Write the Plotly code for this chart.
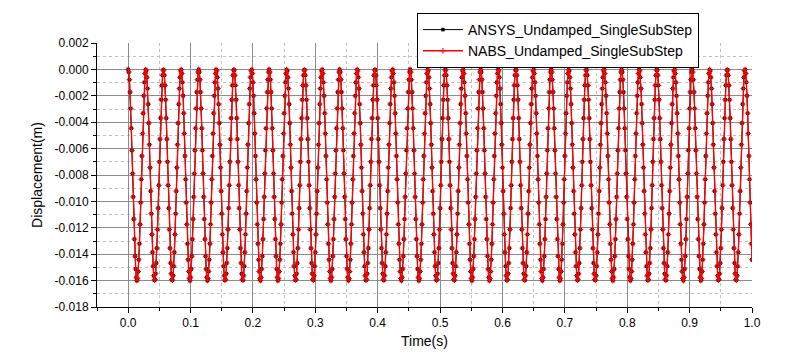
import plotly.graph_objects as go

# ---- data ----
time_start_s = 0.0
time_step_s = 0.001

# ANSYS displacement samples (mm), one per time step
ansys_disp_mm = [
    0, -0.2, -0.78, -1.72, -2.96, -4.46, -6.13, -7.89, -9.66, -11.34, -12.86, -14.15, -15.12, -15.75, -16.0, -15.85, -15.31, -14.42, -13.21, -11.74, -10.09, -8.33, -6.56, -4.86, -3.32, -2.0, -0.98, -0.31, -0.01,
    -0.11, -0.6, -1.45, -2.63, -4.07, -5.7, -7.44, -9.22, -10.93, -12.5, -13.85, -14.91, -15.63, -15.97, -15.92, -15.48, -14.67, -13.54, -12.13, -10.51, -8.78, -7.0, -5.28, -3.69, -2.3, -1.21, -0.44, -0.05,
    -0.05, -0.44, -1.21, -2.3, -3.69, -5.28, -7.0, -8.78, -10.51, -12.13, -13.54, -14.67, -15.48, -15.92, -15.97, -15.63, -14.91, -13.85, -12.5, -10.93, -9.22, -7.44, -5.7, -4.07, -2.63, -1.45, -0.6, -0.11,
    -0.01, -0.31, -0.98, -2.0, -3.32, -4.86, -6.56, -8.33, -10.09, -11.74, -13.21, -14.42, -15.31, -15.85, -16.0, -15.75, -15.12, -14.15, -12.86, -11.34, -9.66, -7.89, -6.13, -4.46, -2.96, -1.72, -0.78, -0.2,
    0, -0.2, -0.78, -1.72, -2.96, -4.46, -6.13, -7.89, -9.66, -11.34, -12.86, -14.15, -15.12, -15.75, -16.0, -15.85, -15.31, -14.42, -13.21, -11.74, -10.09, -8.33, -6.56, -4.86, -3.32, -2.0, -0.98, -0.31, -0.01,
    -0.11, -0.6, -1.45, -2.63, -4.07, -5.7, -7.44, -9.22, -10.93, -12.5, -13.85, -14.91, -15.63, -15.97, -15.92, -15.48, -14.67, -13.54, -12.13, -10.51, -8.78, -7.0, -5.28, -3.69, -2.3, -1.21, -0.44, -0.05,
    -0.05, -0.44, -1.21, -2.3, -3.69, -5.28, -7.0, -8.78, -10.51, -12.13, -13.54, -14.67, -15.48, -15.92, -15.97, -15.63, -14.91, -13.85, -12.5, -10.93, -9.22, -7.44, -5.7, -4.07, -2.63, -1.45, -0.6, -0.11,
    -0.01, -0.31, -0.98, -2.0, -3.32, -4.86, -6.56, -8.33, -10.09, -11.74, -13.21, -14.42, -15.31, -15.85, -16.0, -15.75, -15.12, -14.15, -12.86, -11.34, -9.66, -7.89, -6.13, -4.46, -2.96, -1.72, -0.78, -0.2,
    0, -0.2, -0.78, -1.72, -2.96, -4.46, -6.13, -7.89, -9.66, -11.34, -12.86, -14.15, -15.12, -15.75, -16.0, -15.85, -15.31, -14.42, -13.21, -11.74, -10.09, -8.33, -6.56, -4.86, -3.32, -2.0, -0.98, -0.31, -0.01,
    -0.11, -0.6, -1.45, -2.63, -4.07, -5.7, -7.44, -9.22, -10.93, -12.5, -13.85, -14.91, -15.63, -15.97, -15.92, -15.48, -14.67, -13.54, -12.13, -10.51, -8.78, -7.0, -5.28, -3.69, -2.3, -1.21, -0.44, -0.05,
    -0.05, -0.44, -1.21, -2.3, -3.69, -5.28, -7.0, -8.78, -10.51, -12.13, -13.54, -14.67, -15.48, -15.92, -15.97, -15.63, -14.91, -13.85, -12.5, -10.93, -9.22, -7.44, -5.7, -4.07, -2.63, -1.45, -0.6, -0.11,
    -0.01, -0.31, -0.98, -2.0, -3.32, -4.86, -6.56, -8.33, -10.09, -11.74, -13.21, -14.42, -15.31, -15.85, -16.0, -15.75, -15.12, -14.15, -12.86, -11.34, -9.66, -7.89, -6.13, -4.46, -2.96, -1.72, -0.78, -0.2,
    0, -0.2, -0.78, -1.72, -2.96, -4.46, -6.13, -7.89, -9.66, -11.34, -12.86, -14.15, -15.12, -15.75, -16.0, -15.85, -15.31, -14.42, -13.21, -11.74, -10.09, -8.33, -6.56, -4.86, -3.32, -2.0, -0.98, -0.31, -0.01,
    -0.11, -0.6, -1.45, -2.63, -4.07, -5.7, -7.44, -9.22, -10.93, -12.5, -13.85, -14.91, -15.63, -15.97, -15.92, -15.48, -14.67, -13.54, -12.13, -10.51, -8.78, -7.0, -5.28, -3.69, -2.3, -1.21, -0.44, -0.05,
    -0.05, -0.44, -1.21, -2.3, -3.69, -5.28, -7.0, -8.78, -10.51, -12.13, -13.54, -14.67, -15.48, -15.92, -15.97, -15.63, -14.91, -13.85, -12.5, -10.93, -9.22, -7.44, -5.7, -4.07, -2.63, -1.45, -0.6, -0.11,
    -0.01, -0.31, -0.98, -2.0, -3.32, -4.86, -6.56, -8.33, -10.09, -11.74, -13.21, -14.42, -15.31, -15.85, -16.0, -15.75, -15.12, -14.15, -12.86, -11.34, -9.66, -7.89, -6.13, -4.46, -2.96, -1.72, -0.78, -0.2,
    0, -0.2, -0.78, -1.72, -2.96, -4.46, -6.13, -7.89, -9.66, -11.34, -12.86, -14.15, -15.12, -15.75, -16.0, -15.85, -15.31, -14.42, -13.21, -11.74, -10.09, -8.33, -6.56, -4.86, -3.32, -2.0, -0.98, -0.31, -0.01,
    -0.11, -0.6, -1.45, -2.63, -4.07, -5.7, -7.44, -9.22, -10.93, -12.5, -13.85, -14.91, -15.63, -15.97, -15.92, -15.48, -14.67, -13.54, -12.13, -10.51, -8.78, -7.0, -5.28, -3.69, -2.3, -1.21, -0.44, -0.05,
    -0.05, -0.44, -1.21, -2.3, -3.69, -5.28, -7.0, -8.78, -10.51, -12.13, -13.54, -14.67, -15.48, -15.92, -15.97, -15.63, -14.91, -13.85, -12.5, -10.93, -9.22, -7.44, -5.7, -4.07, -2.63, -1.45, -0.6, -0.11,
    -0.01, -0.31, -0.98, -2.0, -3.32, -4.86, -6.56, -8.33, -10.09, -11.74, -13.21, -14.42, -15.31, -15.85, -16.0, -15.75, -15.12, -14.15, -12.86, -11.34, -9.66, -7.89, -6.13, -4.46, -2.96, -1.72, -0.78, -0.2,
    0, -0.2, -0.78, -1.72, -2.96, -4.46, -6.13, -7.89, -9.66, -11.34, -12.86, -14.15, -15.12, -15.75, -16.0, -15.85, -15.31, -14.42, -13.21, -11.74, -10.09, -8.33, -6.56, -4.86, -3.32, -2.0, -0.98, -0.31, -0.01,
    -0.11, -0.6, -1.45, -2.63, -4.07, -5.7, -7.44, -9.22, -10.93, -12.5, -13.85, -14.91, -15.63, -15.97, -15.92, -15.48, -14.67, -13.54, -12.13, -10.51, -8.78, -7.0, -5.28, -3.69, -2.3, -1.21, -0.44, -0.05,
    -0.05, -0.44, -1.21, -2.3, -3.69, -5.28, -7.0, -8.78, -10.51, -12.13, -13.54, -14.67, -15.48, -15.92, -15.97, -15.63, -14.91, -13.85, -12.5, -10.93, -9.22, -7.44, -5.7, -4.07, -2.63, -1.45, -0.6, -0.11,
    -0.01, -0.31, -0.98, -2.0, -3.32, -4.86, -6.56, -8.33, -10.09, -11.74, -13.21, -14.42, -15.31, -15.85, -16.0, -15.75, -15.12, -14.15, -12.86, -11.34, -9.66, -7.89, -6.13, -4.46, -2.96, -1.72, -0.78, -0.2,
    0, -0.2, -0.78, -1.72, -2.96, -4.46, -6.13, -7.89, -9.66, -11.34, -12.86, -14.15, -15.12, -15.75, -16.0, -15.85, -15.31, -14.42, -13.21, -11.74, -10.09, -8.33, -6.56, -4.86, -3.32, -2.0, -0.98, -0.31, -0.01,
    -0.11, -0.6, -1.45, -2.63, -4.07, -5.7, -7.44, -9.22, -10.93, -12.5, -13.85, -14.91, -15.63, -15.97, -15.92, -15.48, -14.67, -13.54, -12.13, -10.51, -8.78, -7.0, -5.28, -3.69, -2.3, -1.21, -0.44, -0.05,
    -0.05, -0.44, -1.21, -2.3, -3.69, -5.28, -7.0, -8.78, -10.51, -12.13, -13.54, -14.67, -15.48, -15.92, -15.97, -15.63, -14.91, -13.85, -12.5, -10.93, -9.22, -7.44, -5.7, -4.07, -2.63, -1.45, -0.6, -0.11,
    -0.01, -0.31, -0.98, -2.0, -3.32, -4.86, -6.56, -8.33, -10.09, -11.74, -13.21, -14.42, -15.31, -15.85, -16.0, -15.75, -15.12, -14.15, -12.86, -11.34, -9.66, -7.89, -6.13, -4.46, -2.96, -1.72, -0.78, -0.2,
    0, -0.2, -0.78, -1.72, -2.96, -4.46, -6.13, -7.89, -9.66, -11.34, -12.86, -14.15, -15.12, -15.75, -16.0, -15.85, -15.31, -14.42, -13.21, -11.74, -10.09, -8.33, -6.56, -4.86, -3.32, -2.0, -0.98, -0.31, -0.01,
    -0.11, -0.6, -1.45, -2.63, -4.07, -5.7, -7.44, -9.22, -10.93, -12.5, -13.85, -14.91, -15.63, -15.97, -15.92, -15.48, -14.67, -13.54, -12.13, -10.51, -8.78, -7.0, -5.28, -3.69, -2.3, -1.21, -0.44, -0.05,
    -0.05, -0.44, -1.21, -2.3, -3.69, -5.28, -7.0, -8.78, -10.51, -12.13, -13.54, -14.67, -15.48, -15.92, -15.97, -15.63, -14.91, -13.85, -12.5, -10.93, -9.22, -7.44, -5.7, -4.07, -2.63, -1.45, -0.6, -0.11,
    -0.01, -0.31, -0.98, -2.0, -3.32, -4.86, -6.56, -8.33, -10.09, -11.74, -13.21, -14.42, -15.31, -15.85, -16.0, -15.75, -15.12, -14.15, -12.86, -11.34, -9.66, -7.89, -6.13, -4.46, -2.96, -1.72, -0.78, -0.2,
    0, -0.2, -0.78, -1.72, -2.96, -4.46, -6.13, -7.89, -9.66, -11.34, -12.86, -14.15, -15.12, -15.75, -16.0, -15.85, -15.31, -14.42, -13.21, -11.74, -10.09, -8.33, -6.56, -4.86, -3.32, -2.0, -0.98, -0.31, -0.01,
    -0.11, -0.6, -1.45, -2.63, -4.07, -5.7, -7.44, -9.22, -10.93, -12.5, -13.85, -14.91, -15.63, -15.97, -15.92, -15.48, -14.67, -13.54, -12.13, -10.51, -8.78, -7.0, -5.28, -3.69, -2.3, -1.21, -0.44, -0.05,
    -0.05, -0.44, -1.21, -2.3, -3.69, -5.28, -7.0, -8.78, -10.51, -12.13, -13.54, -14.67, -15.48, -15.92, -15.97, -15.63, -14.91, -13.85, -12.5, -10.93, -9.22, -7.44, -5.7, -4.07, -2.63, -1.45, -0.6, -0.11,
    -0.01, -0.31, -0.98, -2.0, -3.32, -4.86, -6.56, -8.33, -10.09, -11.74, -13.21, -14.42,
]

# NABS displacement samples (mm), one per time step
nabs_disp_mm = [
    0, -0.2, -0.78, -1.72, -2.96, -4.46, -6.13, -7.89, -9.66, -11.34, -12.86, -14.15, -15.12, -15.75, -16.0, -15.85, -15.31, -14.42, -13.21, -11.74, -10.09, -8.33, -6.56, -4.86, -3.32, -2.0, -0.98, -0.31, -0.01,
    -0.11, -0.6, -1.45, -2.63, -4.07, -5.7, -7.44, -9.22, -10.93, -12.5, -13.85, -14.91, -15.63, -15.97, -15.92, -15.48, -14.67, -13.54, -12.13, -10.51, -8.78, -7.0, -5.28, -3.69, -2.3, -1.21, -0.44, -0.05,
    -0.05, -0.44, -1.21, -2.3, -3.69, -5.28, -7.0, -8.78, -10.51, -12.13, -13.54, -14.67, -15.48, -15.92, -15.97, -15.63, -14.91, -13.85, -12.5, -10.93, -9.22, -7.44, -5.7, -4.07, -2.63, -1.45, -0.6, -0.11,
    -0.01, -0.31, -0.98, -2.0, -3.32, -4.86, -6.56, -8.33, -10.09, -11.74, -13.21, -14.42, -15.31, -15.85, -16.0, -15.75, -15.12, -14.15, -12.86, -11.34, -9.66, -7.89, -6.13, -4.46, -2.96, -1.72, -0.78, -0.2,
    0, -0.2, -0.78, -1.72, -2.96, -4.46, -6.13, -7.89, -9.66, -11.34, -12.86, -14.15, -15.12, -15.75, -16.0, -15.85, -15.31, -14.42, -13.21, -11.74, -10.09, -8.33, -6.56, -4.86, -3.32, -2.0, -0.98, -0.31, -0.01,
    -0.11, -0.6, -1.45, -2.63, -4.07, -5.7, -7.44, -9.22, -10.93, -12.5, -13.85, -14.91, -15.63, -15.97, -15.92, -15.48, -14.67, -13.54, -12.13, -10.51, -8.78, -7.0, -5.28, -3.69, -2.3, -1.21, -0.44, -0.05,
    -0.05, -0.44, -1.21, -2.3, -3.69, -5.28, -7.0, -8.78, -10.51, -12.13, -13.54, -14.67, -15.48, -15.92, -15.97, -15.63, -14.91, -13.85, -12.5, -10.93, -9.22, -7.44, -5.7, -4.07, -2.63, -1.45, -0.6, -0.11,
    -0.01, -0.31, -0.98, -2.0, -3.32, -4.86, -6.56, -8.33, -10.09, -11.74, -13.21, -14.42, -15.31, -15.85, -16.0, -15.75, -15.12, -14.15, -12.86, -11.34, -9.66, -7.89, -6.13, -4.46, -2.96, -1.72, -0.78, -0.2,
    0, -0.2, -0.78, -1.72, -2.96, -4.46, -6.13, -7.89, -9.66, -11.34, -12.86, -14.15, -15.12, -15.75, -16.0, -15.85, -15.31, -14.42, -13.21, -11.74, -10.09, -8.33, -6.56, -4.86, -3.32, -2.0, -0.98, -0.31, -0.01,
    -0.11, -0.6, -1.45, -2.63, -4.07, -5.7, -7.44, -9.22, -10.93, -12.5, -13.85, -14.91, -15.63, -15.97, -15.92, -15.48, -14.67, -13.54, -12.13, -10.51, -8.78, -7.0, -5.28, -3.69, -2.3, -1.21, -0.44, -0.05,
    -0.05, -0.44, -1.21, -2.3, -3.69, -5.28, -7.0, -8.78, -10.51, -12.13, -13.54, -14.67, -15.48, -15.92, -15.97, -15.63, -14.91, -13.85, -12.5, -10.93, -9.22, -7.44, -5.7, -4.07, -2.63, -1.45, -0.6, -0.11,
    -0.01, -0.31, -0.98, -2.0, -3.32, -4.86, -6.56, -8.33, -10.09, -11.74, -13.21, -14.42, -15.31, -15.85, -16.0, -15.75, -15.12, -14.15, -12.86, -11.34, -9.66, -7.89, -6.13, -4.46, -2.96, -1.72, -0.78, -0.2,
    0, -0.2, -0.78, -1.72, -2.96, -4.46, -6.13, -7.89, -9.66, -11.34, -12.86, -14.15, -15.12, -15.75, -16.0, -15.85, -15.31, -14.42, -13.21, -11.74, -10.09, -8.33, -6.56, -4.86, -3.32, -2.0, -0.98, -0.31, -0.01,
    -0.11, -0.6, -1.45, -2.63, -4.07, -5.7, -7.44, -9.22, -10.93, -12.5, -13.85, -14.91, -15.63, -15.97, -15.92, -15.48, -14.67, -13.54, -12.13, -10.51, -8.78, -7.0, -5.28, -3.69, -2.3, -1.21, -0.44, -0.05,
    -0.05, -0.44, -1.21, -2.3, -3.69, -5.28, -7.0, -8.78, -10.51, -12.13, -13.54, -14.67, -15.48, -15.92, -15.97, -15.63, -14.91, -13.85, -12.5, -10.93, -9.22, -7.44, -5.7, -4.07, -2.63, -1.45, -0.6, -0.11,
    -0.01, -0.31, -0.98, -2.0, -3.32, -4.86, -6.56, -8.33, -10.09, -11.74, -13.21, -14.42, -15.31, -15.85, -16.0, -15.75, -15.12, -14.15, -12.86, -11.34, -9.66, -7.89, -6.13, -4.46, -2.96, -1.72, -0.78, -0.2,
    0, -0.2, -0.78, -1.72, -2.96, -4.46, -6.13, -7.89, -9.66, -11.34, -12.86, -14.15, -15.12, -15.75, -16.0, -15.85, -15.31, -14.42, -13.21, -11.74, -10.09, -8.33, -6.56, -4.86, -3.32, -2.0, -0.98, -0.31, -0.01,
    -0.11, -0.6, -1.45, -2.63, -4.07, -5.7, -7.44, -9.22, -10.93, -12.5, -13.85, -14.91, -15.63, -15.97, -15.92, -15.48, -14.67, -13.54, -12.13, -10.51, -8.78, -7.0, -5.28, -3.69, -2.3, -1.21, -0.44, -0.05,
    -0.05, -0.44, -1.21, -2.3, -3.69, -5.28, -7.0, -8.78, -10.51, -12.13, -13.54, -14.67, -15.48, -15.92, -15.97, -15.63, -14.91, -13.85, -12.5, -10.93, -9.22, -7.44, -5.7, -4.07, -2.63, -1.45, -0.6, -0.11,
    -0.01, -0.31, -0.98, -2.0, -3.32, -4.86, -6.56, -8.33, -10.09, -11.74, -13.21, -14.42, -15.31, -15.85, -16.0, -15.75, -15.12, -14.15, -12.86, -11.34, -9.66, -7.89, -6.13, -4.46, -2.96, -1.72, -0.78, -0.2,
    0, -0.2, -0.78, -1.72, -2.96, -4.46, -6.13, -7.89, -9.66, -11.34, -12.86, -14.15, -15.12, -15.75, -16.0, -15.85, -15.31, -14.42, -13.21, -11.74, -10.09, -8.33, -6.56, -4.86, -3.32, -2.0, -0.98, -0.31, -0.01,
    -0.11, -0.6, -1.45, -2.63, -4.07, -5.7, -7.44, -9.22, -10.93, -12.5, -13.85, -14.91, -15.63, -15.97, -15.92, -15.48, -14.67, -13.54, -12.13, -10.51, -8.78, -7.0, -5.28, -3.69, -2.3, -1.21, -0.44, -0.05,
    -0.05, -0.44, -1.21, -2.3, -3.69, -5.28, -7.0, -8.78, -10.51, -12.13, -13.54, -14.67, -15.48, -15.92, -15.97, -15.63, -14.91, -13.85, -12.5, -10.93, -9.22, -7.44, -5.7, -4.07, -2.63, -1.45, -0.6, -0.11,
    -0.01, -0.31, -0.98, -2.0, -3.32, -4.86, -6.56, -8.33, -10.09, -11.74, -13.21, -14.42, -15.31, -15.85, -16.0, -15.75, -15.12, -14.15, -12.86, -11.34, -9.66, -7.89, -6.13, -4.46, -2.96, -1.72, -0.78, -0.2,
    0, -0.2, -0.78, -1.72, -2.96, -4.46, -6.13, -7.89, -9.66, -11.34, -12.86, -14.15, -15.12, -15.75, -16.0, -15.85, -15.31, -14.42, -13.21, -11.74, -10.09, -8.33, -6.56, -4.86, -3.32, -2.0, -0.98, -0.31, -0.01,
    -0.11, -0.6, -1.45, -2.63, -4.07, -5.7, -7.44, -9.22, -10.93, -12.5, -13.85, -14.91, -15.63, -15.97, -15.92, -15.48, -14.67, -13.54, -12.13, -10.51, -8.78, -7.0, -5.28, -3.69, -2.3, -1.21, -0.44, -0.05,
    -0.05, -0.44, -1.21, -2.3, -3.69, -5.28, -7.0, -8.78, -10.51, -12.13, -13.54, -14.67, -15.48, -15.92, -15.97, -15.63, -14.91, -13.85, -12.5, -10.93, -9.22, -7.44, -5.7, -4.07, -2.63, -1.45, -0.6, -0.11,
    -0.01, -0.31, -0.98, -2.0, -3.32, -4.86, -6.56, -8.33, -10.09, -11.74, -13.21, -14.42, -15.31, -15.85, -16.0, -15.75, -15.12, -14.15, -12.86, -11.34, -9.66, -7.89, -6.13, -4.46, -2.96, -1.72, -0.78, -0.2,
    0, -0.2, -0.78, -1.72, -2.96, -4.46, -6.13, -7.89, -9.66, -11.34, -12.86, -14.15, -15.12, -15.75, -16.0, -15.85, -15.31, -14.42, -13.21, -11.74, -10.09, -8.33, -6.56, -4.86, -3.32, -2.0, -0.98, -0.31, -0.01,
    -0.11, -0.6, -1.45, -2.63, -4.07, -5.7, -7.44, -9.22, -10.93, -12.5, -13.85, -14.91, -15.63, -15.97, -15.92, -15.48, -14.67, -13.54, -12.13, -10.51, -8.78, -7.0, -5.28, -3.69, -2.3, -1.21, -0.44, -0.05,
    -0.05, -0.44, -1.21, -2.3, -3.69, -5.28, -7.0, -8.78, -10.51, -12.13, -13.54, -14.67, -15.48, -15.92, -15.97, -15.63, -14.91, -13.85, -12.5, -10.93, -9.22, -7.44, -5.7, -4.07, -2.63, -1.45, -0.6, -0.11,
    -0.01, -0.31, -0.98, -2.0, -3.32, -4.86, -6.56, -8.33, -10.09, -11.74, -13.21, -14.42, -15.31, -15.85, -16.0, -15.75, -15.12, -14.15, -12.86, -11.34, -9.66, -7.89, -6.13, -4.46, -2.96, -1.72, -0.78, -0.2,
    0, -0.2, -0.78, -1.72, -2.96, -4.46, -6.13, -7.89, -9.66, -11.34, -12.86, -14.15, -15.12, -15.75, -16.0, -15.85, -15.31, -14.42, -13.21, -11.74, -10.09, -8.33, -6.56, -4.86, -3.32, -2.0, -0.98, -0.31, -0.01,
    -0.11, -0.6, -1.45, -2.63, -4.07, -5.7, -7.44, -9.22, -10.93, -12.5, -13.85, -14.91, -15.63, -15.97, -15.92, -15.48, -14.67, -13.54, -12.13, -10.51, -8.78, -7.0, -5.28, -3.69, -2.3, -1.21, -0.44, -0.05,
    -0.05, -0.44, -1.21, -2.3, -3.69, -5.28, -7.0, -8.78, -10.51, -12.13, -13.54, -14.67, -15.48, -15.92, -15.97, -15.63, -14.91, -13.85, -12.5, -10.93, -9.22, -7.44, -5.7, -4.07, -2.63, -1.45, -0.6, -0.11,
    -0.01, -0.31, -0.98, -2.0, -3.32, -4.86, -6.56, -8.33, -10.09, -11.74, -13.21, -14.42,
]

series_names = ["ANSYS_Undamped_SingleSubStep", "NABS_Undamped_SingleSubStep"]

x_tick_vals = [0.0, 0.1, 0.2, 0.3, 0.4, 0.5, 0.6, 0.7, 0.8, 0.9, 1.0]
x_tick_text = ["0.0", "0.1", "0.2", "0.3", "0.4", "0.5", "0.6", "0.7", "0.8", "0.9", "1.0"]
x_minor_vals = [-0.05, 0.05, 0.15, 0.25, 0.35, 0.45, 0.55, 0.65, 0.75, 0.85, 0.95]

y_tick_vals = [0.002, 0.0, -0.002, -0.004, -0.006, -0.008, -0.010, -0.012, -0.014, -0.016, -0.018]
y_tick_text = ["0.002", "0.000", "-0.002", "-0.004", "-0.006", "-0.008", "-0.010",
               "-0.012", "-0.014", "-0.016", "-0.018"]
y_minor_vals = [0.001, -0.001, -0.003, -0.005, -0.007, -0.009, -0.011, -0.013, -0.015, -0.017]

x_range = [-0.05, 1.0]
y_range = [-0.018, 0.002]

# gridlines only inside the frame (not on the frame edges)
x_grid_vals = [v for v in x_tick_vals if x_range[0] < v < x_range[1]]
y_grid_vals = [v for v in y_tick_vals if y_range[0] < v < y_range[1]]
x_minor_grid = [v for v in x_minor_vals if x_range[0] < v < x_range[1]]
y_minor_grid = [v for v in y_minor_vals if y_range[0] < v < y_range[1]]

FONT = "Liberation Sans, Arial, sans-serif"

fig = go.Figure()
fig.add_trace(go.Scatter(
    x0=time_start_s, dx=time_step_s,
    y=[v / 1000.0 for v in ansys_disp_mm],
    mode="lines+markers", name=series_names[0],
    line=dict(color="black", width=1),
    marker=dict(symbol="square", size=3.5, color="black"),
))
fig.add_trace(go.Scatter(
    x0=time_start_s, dx=time_step_s,
    y=[v / 1000.0 for v in nabs_disp_mm],
    mode="lines+markers", name=series_names[1],
    line=dict(color="red", width=1.4),
    marker=dict(symbol="cross-thin", size=4, color="red", line=dict(color="red", width=1)),
))
# empty trace that carries the labelled axes
fig.add_trace(go.Scatter(x=[None], y=[None], xaxis="x2", yaxis="y2",
                         showlegend=False, hoverinfo="skip"))

fig.update_layout(
    width=780, height=355,
    margin=dict(l=89, r=36, t=35, b=56, autoexpand=False),
    paper_bgcolor="white", plot_bgcolor="white",
    font=dict(family=FONT, size=12, color="black"),
    showlegend=True,
    legend=dict(
        x=0.4885, y=1.1136, xanchor="left", yanchor="top",
        bgcolor="white", bordercolor="black", borderwidth=1,
        font=dict(family=FONT, size=14, color="black"),
        itemwidth=40, tracegroupgap=0,
    ),
    xaxis=dict(
        range=x_range, tickmode="array", tickvals=x_grid_vals,
        showticklabels=False, ticks="", showline=False, zeroline=False,
        showgrid=True, gridcolor="#8c8c8c", gridwidth=1,
        minor=dict(tickmode="array", tickvals=x_minor_grid, ticks="",
                   showgrid=True, gridcolor="#c0c0c0", griddash="dot", gridwidth=1),
    ),
    yaxis=dict(
        range=y_range, tickmode="array", tickvals=y_grid_vals,
        showticklabels=False, ticks="", showline=False, zeroline=False,
        showgrid=True, gridcolor="#8c8c8c", gridwidth=1,
        minor=dict(tickmode="array", tickvals=y_minor_grid, ticks="",
                   showgrid=True, gridcolor="#c0c0c0", griddash="dot", gridwidth=1),
    ),
    xaxis2=dict(
        overlaying="x", anchor="y", side="bottom",
        range=x_range, tickmode="array", tickvals=x_tick_vals, ticktext=x_tick_text,
        ticks="outside", ticklen=5, tickwidth=1, tickcolor="black",
        showline=True, linecolor="black", linewidth=1,
        showgrid=False, zeroline=False,
        tickfont=dict(family=FONT, size=12, color="black"),
        minor=dict(tickmode="array", tickvals=x_minor_vals, ticks="outside",
                   ticklen=3, tickwidth=1, tickcolor="black", showgrid=False),
        title=dict(text="Time(s)", font=dict(family=FONT, size=14, color="black"), standoff=6),
    ),
    yaxis2=dict(
        overlaying="y", anchor="x", side="left",
        range=y_range, tickmode="array", tickvals=y_tick_vals, ticktext=y_tick_text,
        ticks="outside", ticklen=5, tickwidth=1, tickcolor="black",
        showline=True, linecolor="black", linewidth=1,
        showgrid=False, zeroline=False,
        tickfont=dict(family=FONT, size=12, color="black"),
        minor=dict(tickmode="array", tickvals=y_minor_vals, ticks="outside",
                   ticklen=3, tickwidth=1, tickcolor="black", showgrid=False),
        title=dict(text="Displacement(m)", font=dict(family=FONT, size=14, color="black"), standoff=8),
    ),
)

fig.write_html("out.html")
